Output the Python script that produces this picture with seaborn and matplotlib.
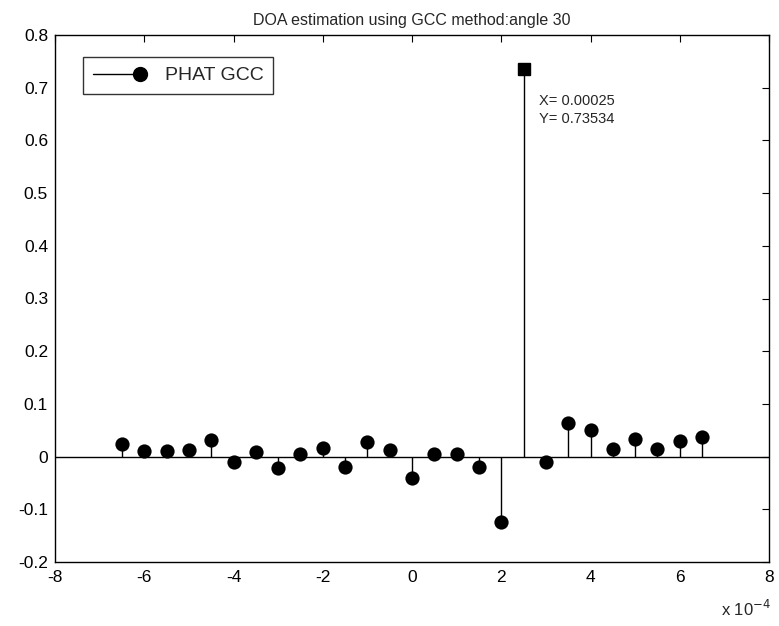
import numpy as np
import pandas as pd
import matplotlib
matplotlib.use("Agg")
import matplotlib.pyplot as plt
import seaborn as sns
from matplotlib.lines import Line2D
from matplotlib.legend_handler import HandlerLine2D

# ---- data ----
lags = [-6.5, -6.0, -5.5, -5.0, -4.5, -4.0, -3.5, -3.0, -2.5, -2.0, -1.5, -1.0, -0.5,
        0.0, 0.5, 1.0, 1.5, 2.0, 2.5, 3.0, 3.5, 4.0, 4.5, 5.0, 5.5, 6.0, 6.5]
gcc = [0.023, 0.010, 0.010, 0.012, 0.032, -0.010, 0.008, -0.022, 0.005, 0.016, -0.020,
       0.027, 0.013, -0.040, 0.005, 0.005, -0.020, -0.125, 0.73534, -0.011, 0.063,
       0.051, 0.015, 0.034, 0.015, 0.030, 0.037]
peak_x = 0.00025
peak_y = 0.73534
xticks = [-8, -6, -4, -2, 0, 2, 4, 6, 8]
yticks = [-0.2, -0.1, 0, 0.1, 0.2, 0.3, 0.4, 0.5, 0.6, 0.7, 0.8]
title = "DOA estimation using GCC method:angle 30"
series_name = "PHAT GCC"

df = pd.DataFrame({"tau": np.array(lags) * 1e-4, "r": gcc})
df_pts = df[~np.isclose(df["tau"], peak_x)]

sns.set_theme(style="white")
plt.rcParams["font.family"] = ["Liberation Sans", "DejaVu Sans"]

fig = plt.figure(figsize=(7.79, 6.26), dpi=100)
ax = fig.add_axes([55 / 779, 1 - 562 / 626, (769 - 55) / 779, (562 - 35) / 626])
ax.set_facecolor("white")

# baseline
ax.axhline(0, color="black", lw=1.0, zorder=1)
# stems
ax.vlines(df["tau"], 0, df["r"], color="black", lw=1.0, zorder=2)
# markers
sns.scatterplot(data=df_pts, x="tau", y="r", ax=ax, color="black", marker="o",
                s=105, edgecolor="black", linewidth=0, zorder=3, legend=False)
# peak data cursor
ax.plot([peak_x], [peak_y], marker="s", ms=8.5, color="black", ls="none", zorder=4)
ax.text(peak_x + 0.000035, 0.674, "X= 0.00025", fontsize=10.5, va="center", ha="left")
ax.text(peak_x + 0.000035, 0.640, f"Y= {peak_y:.5f}", fontsize=10.5, va="center", ha="left")

ax.set_xlim(-8e-4, 8e-4)
ax.set_ylim(-0.2, 0.8)
ax.set_xticks(np.array(xticks) * 1e-4)
ax.set_xticklabels([str(t) for t in xticks])
ax.set_yticks(yticks)
ax.set_yticklabels([f"{t:g}" for t in yticks])
ax.tick_params(direction="in", length=5, width=0.8, top=True, right=True,
               labelsize=12.5, colors="black")
ax.tick_params(axis="y", pad=5)
ax.tick_params(axis="x", pad=6)
for s in ax.spines.values():
    s.set_color("black")
    s.set_linewidth(1.0)
ax.set_xlabel("")
ax.set_ylabel("")
ax.set_title(title, fontsize=11.5, pad=7)

fig.text(721 / 779, 1 - 609 / 626, r"x 10$^{-4}$", fontsize=12, ha="left", va="center")


class StemHandler(HandlerLine2D):
    def create_artists(self, legend, orig_handle, xdescent, ydescent, width, height,
                       fontsize, trans):
        y = height / 2 - ydescent
        x0 = -xdescent
        x1 = width - xdescent - 0.06 * width
        line = Line2D([x0, x1], [y, y], color="black", lw=1.0)
        mk = Line2D([x1], [y], marker="o", ms=10, color="black", ls="none")
        line.set_transform(trans)
        mk.set_transform(trans)
        return [line, mk]


h = Line2D([], [], color="black", marker="o")
leg = ax.legend([h], [series_name], loc="upper left", handler_map={h: StemHandler()},
                fontsize=14, frameon=True, fancybox=False, edgecolor="black",
                handlelength=2.6, handletextpad=1.1, borderpad=0.5, borderaxespad=0,
                bbox_to_anchor=((83 - 55) / 714, (562 - 57) / 527))
leg.get_frame().set_linewidth(1.0)

fig.savefig("out.png", dpi=100, facecolor="white")
